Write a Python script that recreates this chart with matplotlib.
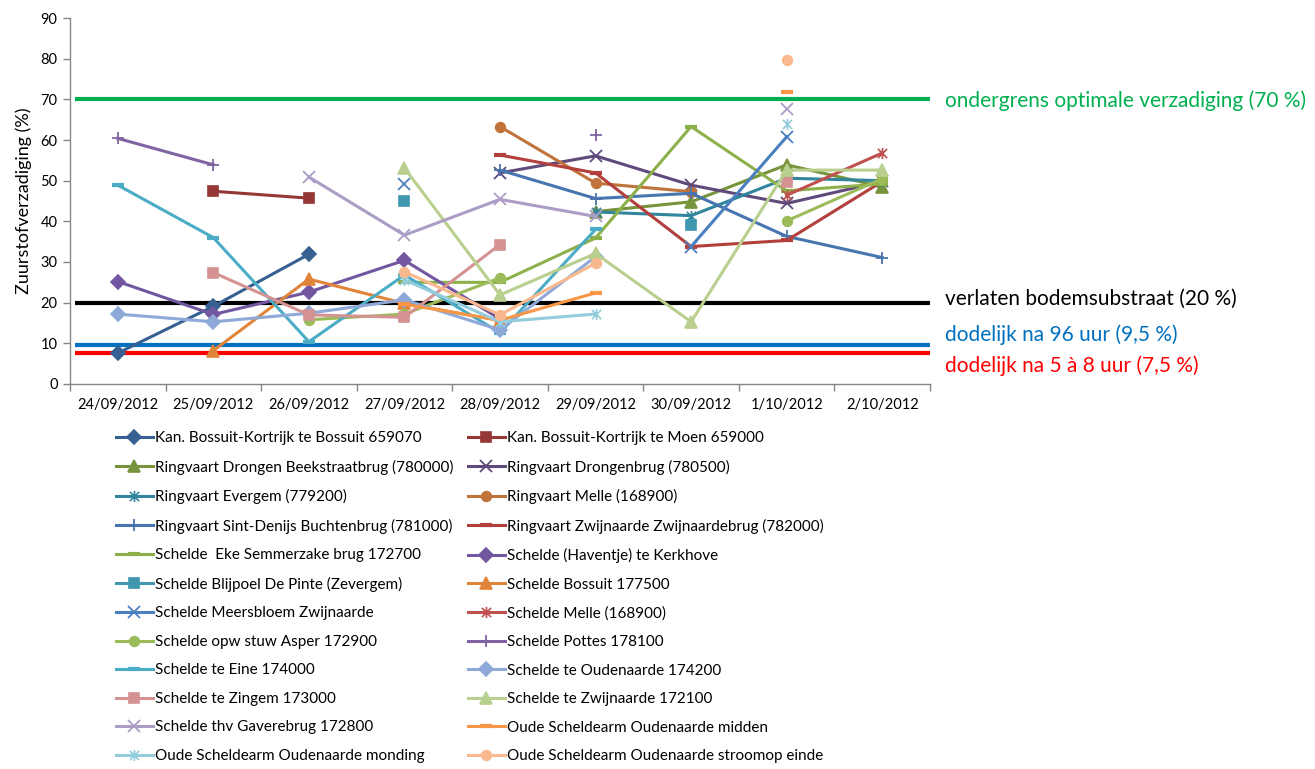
import numpy as np
import matplotlib
matplotlib.use("Agg")
import matplotlib.pyplot as plt
from matplotlib.path import Path

plt.rcParams['font.family'] = ['Lato', 'DejaVu Sans']

nan = np.nan

dates = ['24/09/2012', '25/09/2012', '26/09/2012', '27/09/2012', '28/09/2012',
         '29/09/2012', '30/09/2012', '1/10/2012', '2/10/2012']

# zuurstofverzadiging (%) per meetpunt, NaN = geen meting
bossuit_659070 = [7.6, 19.1, 31.9, nan, nan, nan, nan, nan, nan]
moen_659000 = [nan, 47.4, 45.7, nan, nan, nan, nan, nan, nan]
drongen_beekstraat = [nan, nan, nan, nan, nan, 42.4, 44.8, 53.9, 48.5]
drongenbrug = [nan, nan, nan, nan, 51.9, 56.1, 48.9, 44.4, 49.8]
evergem = [nan, nan, nan, nan, nan, 42.3, 41.4, 50.6, 50.0]
ringvaart_melle = [nan, nan, nan, nan, 63.3, 49.4, 47.3, nan, nan]
sint_denijs = [nan, nan, nan, nan, 52.6, 45.6, 46.9, 36.3, 31.1]
zwijnaardebrug = [nan, nan, nan, nan, 56.3, 51.9, 33.8, 35.3, 49.8]
eke_semmerzake = [nan, nan, nan, 25.0, 25.0, 35.9, 63.3, 47.5, 49.2]
kerkhove = [25.2, 17.1, 22.6, 30.4, 16.0, nan, nan, nan, nan]
blijpoel = [nan, nan, nan, 45.0, nan, nan, 39.1, nan, nan]
bossuit_177500 = [nan, 8.2, 25.8, 19.8, 15.6, nan, nan, nan, nan]
meersbloem = [nan, nan, nan, 49.3, nan, nan, 33.8, 60.8, nan]
schelde_melle = [nan, nan, nan, nan, nan, nan, nan, 46.4, 56.8]
asper = [nan, nan, 15.8, 17.2, 26.1, nan, nan, 40.1, 50.5]
pottes = [60.4, 53.9, nan, nan, nan, 61.3, nan, nan, nan]
eine = [48.9, 36.0, 10.4, 26.8, 12.6, 38.0, nan, nan, nan]
oudenaarde = [17.2, 15.3, 17.4, 20.7, 13.3, 31.3, nan, nan, nan]
zingem = [nan, 27.4, 17.0, 16.4, 34.3, nan, nan, 49.7, nan]
zwijnaarde = [nan, nan, nan, 53.1, 21.9, 32.1, 15.3, 52.6, 52.6]
gaverebrug = [nan, nan, 50.9, 36.6, 45.4, 41.2, nan, 67.6, nan]
oude_midden = [nan, nan, nan, 19.6, 15.7, 22.4, nan, 71.9, nan]
oude_monding = [nan, nan, nan, 25.6, 15.3, 17.2, nan, 64.0, nan]
oude_stroomop = [nan, nan, nan, 27.6, 17.0, 29.7, nan, 79.7, nan]

# drempelwaarden
thresholds = [70, 20, 9.5, 7.5]
threshold_labels = ['ondergrens optimale verzadiging (70 %)',
                    'verlaten bodemsubstraat (20 %)',
                    'dodelijk na 96 uur (9,5 %)',
                    'dodelijk na 5 à 8 uur (7,5 %)']
threshold_colors = ['#00B050', '#000000', '#0070C0', '#FF0000']
# verticale plaats van de tekstjes naast de grafiek (in %)
label_pos = [69.6, 21.0, 12.0, 4.6]

star = Path([(-1, -1), (1, 1), (-1, 1), (1, -1), (0, -1.2), (0, 1.2)],
            [Path.MOVETO, Path.LINETO, Path.MOVETO, Path.LINETO, Path.MOVETO, Path.LINETO])

series = [
    ('Kan. Bossuit-Kortrijk te Bossuit 659070', bossuit_659070, '#376092', 'D'),
    ('Kan. Bossuit-Kortrijk te Moen 659000', moen_659000, '#953735', 's'),
    ('Ringvaart Drongen Beekstraatbrug (780000)', drongen_beekstraat, '#77933C', '^'),
    ('Ringvaart Drongenbrug (780500)', drongenbrug, '#604A7B', 'x'),
    ('Ringvaart Evergem (779200)', evergem, '#31859C', star),
    ('Ringvaart Melle (168900)', ringvaart_melle, '#C0733A', 'o'),
    ('Ringvaart Sint-Denijs Buchtenbrug (781000)', sint_denijs, '#4775B0', '+'),
    ('Ringvaart Zwijnaarde Zwijnaardebrug (782000)', zwijnaardebrug, '#B4403D', '_'),
    ('Schelde  Eke Semmerzake brug 172700', eke_semmerzake, '#8DB04A', '_'),
    ('Schelde (Haventje) te Kerkhove', kerkhove, '#7257A0', 'D'),
    ('Schelde Blijpoel De Pinte (Zevergem)', blijpoel, '#3F97B0', 's'),
    ('Schelde Bossuit 177500', bossuit_177500, '#E0843A', '^'),
    ('Schelde Meersbloem Zwijnaarde', meersbloem, '#4A7FC0', 'x'),
    ('Schelde Melle (168900)', schelde_melle, '#C0504D', star),
    ('Schelde opw stuw Asper 172900', asper, '#9BBB59', 'o'),
    ('Schelde Pottes 178100', pottes, '#8064A2', '+'),
    ('Schelde te Eine 174000', eine, '#4BACC6', '_'),
    ('Schelde te Oudenaarde 174200', oudenaarde, '#8EA9D8', 'D'),
    ('Schelde te Zingem 173000', zingem, '#D49392', 's'),
    ('Schelde te Zwijnaarde 172100', zwijnaarde, '#B8CF8E', '^'),
    ('Schelde thv Gaverebrug 172800', gaverebrug, '#AB9DC6', 'x'),
    ('Oude Scheldearm Oudenaarde midden', oude_midden, '#F79646', '_'),
    ('Oude Scheldearm Oudenaarde monding', oude_monding, '#93CDDD', star),
    ('Oude Scheldearm Oudenaarde stroomop einde', oude_stroomop, '#F9B88E', 'o'),
]

fig = plt.figure(figsize=(13.15, 7.69), dpi=100)
ax = fig.add_axes([70 / 1315, 1 - 384 / 769, 860 / 1315, 366 / 769])

x = np.arange(len(dates))

for y, ly, lab, col in zip(thresholds, label_pos, threshold_labels, threshold_colors):
    ax.plot([-0.45, 8.5], [y, y], color=col, lw=3.0, solid_capstyle='butt', zorder=1)
    ax.annotate(lab, xy=(1, ly), xycoords=('axes fraction', 'data'),
                xytext=(11, 0), textcoords='offset points', color=col,
                fontsize=15, va='center', ha='left', annotation_clip=False)

handles = []
for name, vals, col, mk in series:
    kw = dict(marker=mk, markersize=7, markeredgewidth=1.2, markerfacecolor=col,
              markeredgecolor=col)
    if mk in ('x', '+'):
        kw.update(markersize=8, markeredgewidth=1.3)
    elif mk is star:
        kw.update(markersize=8, markeredgewidth=1.2, markerfacecolor='none')
    elif mk == '_':
        kw.update(markersize=9, markeredgewidth=3)
    elif mk == '^':
        kw.update(markersize=8)
    ln, = ax.plot(x, np.array(vals, dtype=float), color=col, lw=2.2, label=name,
                  zorder=3, **kw)
    handles.append(ln)

ax.set_xlim(-0.5, 8.5)
ax.set_ylim(0, 90)
ax.set_yticks(range(0, 91, 10))
ax.set_xticks(x)
ax.set_xticklabels(dates)
ax.set_xticks(np.arange(-0.5, 9, 1), minor=True)
ax.tick_params(axis='x', which='major', length=0, pad=10, labelsize=10.5)
ax.tick_params(axis='x', which='minor', length=5, color='#868686', width=1)
ax.tick_params(axis='y', length=5, color='#868686', width=1, labelsize=10.5, pad=4)

for side in ('top', 'right'):
    ax.spines[side].set_visible(False)
for side in ('left', 'bottom'):
    ax.spines[side].set_color('#868686')
    ax.spines[side].set_linewidth(1)

ax.set_ylabel('Zuurstofverzadiging (%)', fontsize=13, labelpad=6)

# legenda in twee kolommen, rij per rij gevuld
for col_idx, x0 in enumerate([116 / 1315, 468 / 1315]):
    hs = handles[col_idx::2]
    fig.legend(hs, [h.get_label() for h in hs], loc='upper left',
               bbox_to_anchor=(x0, 1 - 431 / 769), frameon=False, fontsize=11,
               handlelength=2.4, handletextpad=0.15, labelspacing=0.95,
               borderaxespad=0, borderpad=0)

fig.savefig('out.png', dpi=100)
